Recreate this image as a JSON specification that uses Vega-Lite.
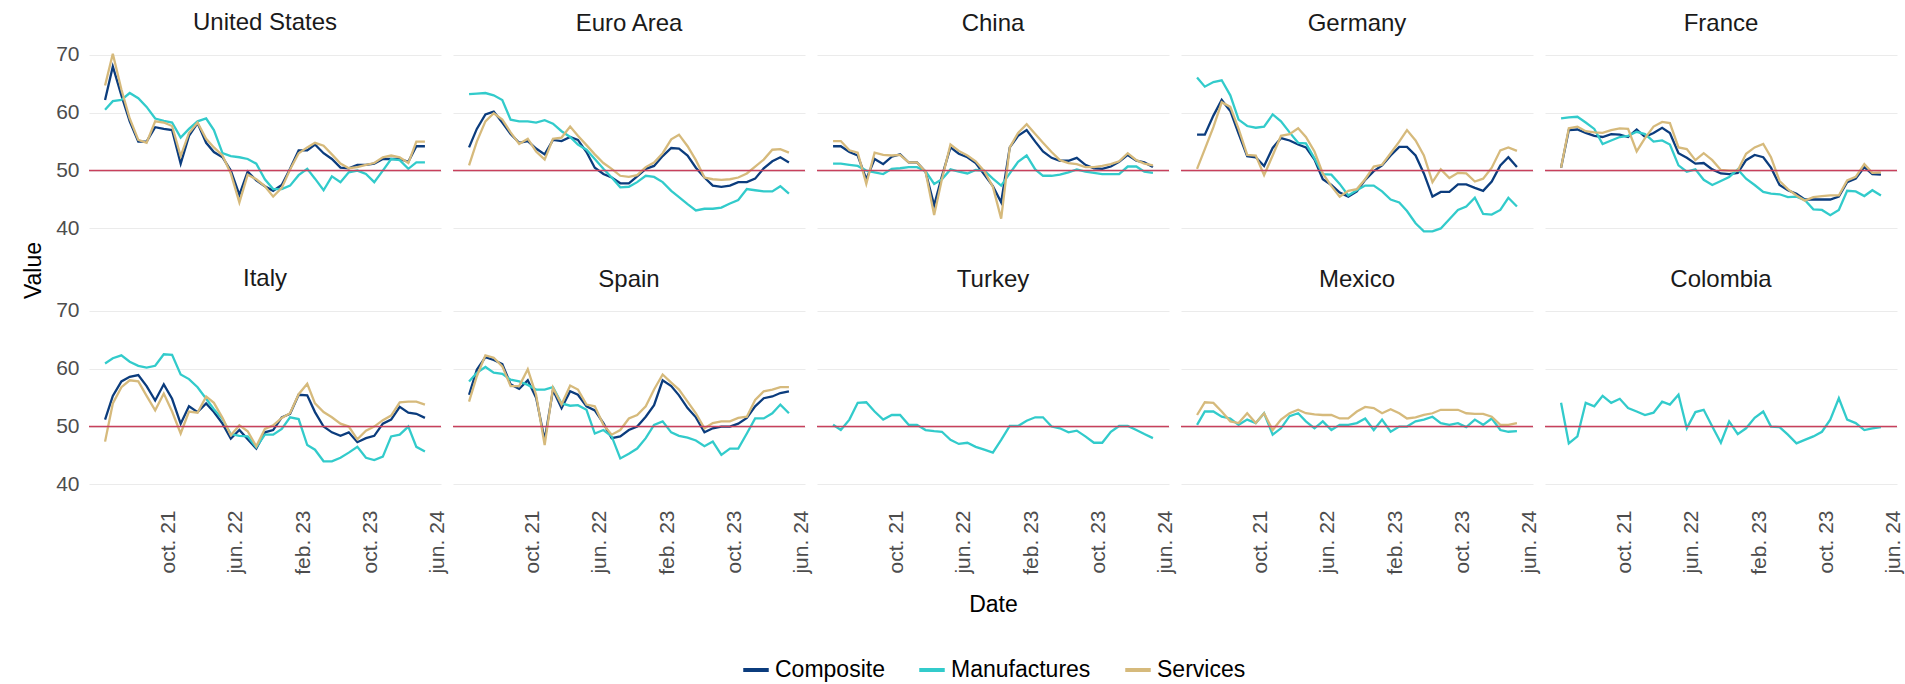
{
"$schema": "https://vega.github.io/schema/vega-lite/v6.json",
"padding": {"left": 22, "top": 10, "right": 5, "bottom": 1},
"datasets": {
"pmi": [
{"country":"United States","date":"2021-02-15","Composite":62.2,"Manufactures":60.5,"Services":64.7},
{"country":"United States","date":"2021-03-15","Composite":68,"Manufactures":62,"Services":70.2},
{"country":"United States","date":"2021-04-15","Composite":63,"Manufactures":62.2,"Services":64},
{"country":"United States","date":"2021-05-15","Composite":58.5,"Manufactures":63.4,"Services":59},
{"country":"United States","date":"2021-06-15","Composite":55,"Manufactures":62.5,"Services":55.3},
{"country":"United States","date":"2021-07-15","Composite":55,"Manufactures":61,"Services":54.8},
{"country":"United States","date":"2021-08-15","Composite":57.5,"Manufactures":59,"Services":58.5},
{"country":"United States","date":"2021-09-15","Composite":57.2,"Manufactures":58.6,"Services":58.3},
{"country":"United States","date":"2021-10-15","Composite":57,"Manufactures":58.3,"Services":57.7},
{"country":"United States","date":"2021-11-15","Composite":51.2,"Manufactures":55.7,"Services":52.5},
{"country":"United States","date":"2021-12-15","Composite":56,"Manufactures":57.2,"Services":56.5},
{"country":"United States","date":"2022-01-15","Composite":58.2,"Manufactures":58.5,"Services":58.3},
{"country":"United States","date":"2022-02-15","Composite":54.8,"Manufactures":59,"Services":55.5},
{"country":"United States","date":"2022-03-15","Composite":53.2,"Manufactures":57,"Services":54},
{"country":"United States","date":"2022-04-15","Composite":52.3,"Manufactures":53,"Services":52.6},
{"country":"United States","date":"2022-05-15","Composite":50,"Manufactures":52.5,"Services":49.5},
{"country":"United States","date":"2022-06-15","Composite":45.8,"Manufactures":52.3,"Services":44.5},
{"country":"United States","date":"2022-07-15","Composite":49.8,"Manufactures":52,"Services":49.3},
{"country":"United States","date":"2022-08-15","Composite":48.3,"Manufactures":51.2,"Services":48.5},
{"country":"United States","date":"2022-09-15","Composite":47.3,"Manufactures":48.5,"Services":47.3},
{"country":"United States","date":"2022-10-15","Composite":46.5,"Manufactures":46.8,"Services":45.5},
{"country":"United States","date":"2022-11-15","Composite":47.5,"Manufactures":46.8,"Services":47},
{"country":"United States","date":"2022-12-15","Composite":50.3,"Manufactures":47.4,"Services":50.2},
{"country":"United States","date":"2023-01-15","Composite":53.5,"Manufactures":49.2,"Services":53},
{"country":"United States","date":"2023-02-15","Composite":53.5,"Manufactures":50.3,"Services":54},
{"country":"United States","date":"2023-03-15","Composite":54.5,"Manufactures":48.6,"Services":54.8},
{"country":"United States","date":"2023-04-15","Composite":53,"Manufactures":46.6,"Services":54.3},
{"country":"United States","date":"2023-05-15","Composite":52,"Manufactures":49,"Services":52.8},
{"country":"United States","date":"2023-06-15","Composite":50.5,"Manufactures":48,"Services":51.2},
{"country":"United States","date":"2023-07-15","Composite":50.4,"Manufactures":49.7,"Services":50.4},
{"country":"United States","date":"2023-08-15","Composite":51,"Manufactures":50,"Services":50.6},
{"country":"United States","date":"2023-09-15","Composite":51,"Manufactures":49.4,"Services":51},
{"country":"United States","date":"2023-10-15","Composite":51.2,"Manufactures":48,"Services":51.3},
{"country":"United States","date":"2023-11-15","Composite":52,"Manufactures":50,"Services":52.3},
{"country":"United States","date":"2023-12-15","Composite":52,"Manufactures":52,"Services":52.6},
{"country":"United States","date":"2024-01-15","Composite":52,"Manufactures":51.8,"Services":52.3},
{"country":"United States","date":"2024-02-15","Composite":51.5,"Manufactures":50.3,"Services":51.3},
{"country":"United States","date":"2024-03-15","Composite":54.2,"Manufactures":51.4,"Services":55},
{"country":"United States","date":"2024-04-15","Composite":54.2,"Manufactures":51.4,"Services":55},
{"country":"Euro Area","date":"2021-02-15","Composite":54,"Manufactures":63.2,"Services":50.9},
{"country":"Euro Area","date":"2021-03-15","Composite":57.2,"Manufactures":63.3,"Services":55},
{"country":"Euro Area","date":"2021-04-15","Composite":59.7,"Manufactures":63.4,"Services":58.5},
{"country":"Euro Area","date":"2021-05-15","Composite":60.2,"Manufactures":63,"Services":59.9},
{"country":"Euro Area","date":"2021-06-15","Composite":58.3,"Manufactures":62.2,"Services":58.8},
{"country":"Euro Area","date":"2021-07-15","Composite":56.3,"Manufactures":58.8,"Services":56.6},
{"country":"Euro Area","date":"2021-08-15","Composite":54.8,"Manufactures":58.5,"Services":54.6},
{"country":"Euro Area","date":"2021-09-15","Composite":55.1,"Manufactures":58.5,"Services":55.5},
{"country":"Euro Area","date":"2021-10-15","Composite":53.8,"Manufactures":58.3,"Services":53.3},
{"country":"Euro Area","date":"2021-11-15","Composite":52.8,"Manufactures":58.7,"Services":51.9},
{"country":"Euro Area","date":"2021-12-15","Composite":55.3,"Manufactures":58.1,"Services":55.5},
{"country":"Euro Area","date":"2022-01-15","Composite":55.1,"Manufactures":56.8,"Services":55.7},
{"country":"Euro Area","date":"2022-02-15","Composite":55.8,"Manufactures":55.8,"Services":57.6},
{"country":"Euro Area","date":"2022-03-15","Composite":55.3,"Manufactures":54.5,"Services":56},
{"country":"Euro Area","date":"2022-04-15","Composite":53.2,"Manufactures":53.6,"Services":54.4},
{"country":"Euro Area","date":"2022-05-15","Composite":50.5,"Manufactures":52,"Services":52.8},
{"country":"Euro Area","date":"2022-06-15","Composite":49.4,"Manufactures":50.3,"Services":51.3},
{"country":"Euro Area","date":"2022-07-15","Composite":48.8,"Manufactures":48.8,"Services":50.3},
{"country":"Euro Area","date":"2022-08-15","Composite":47.8,"Manufactures":47.1,"Services":49.1},
{"country":"Euro Area","date":"2022-09-15","Composite":47.8,"Manufactures":47.2,"Services":48.9},
{"country":"Euro Area","date":"2022-10-15","Composite":49,"Manufactures":48,"Services":49.2},
{"country":"Euro Area","date":"2022-11-15","Composite":50.3,"Manufactures":49.1,"Services":50.6},
{"country":"Euro Area","date":"2022-12-15","Composite":50.8,"Manufactures":48.9,"Services":51.4},
{"country":"Euro Area","date":"2023-01-15","Composite":52.5,"Manufactures":48,"Services":53},
{"country":"Euro Area","date":"2023-02-15","Composite":53.9,"Manufactures":46.5,"Services":55.4},
{"country":"Euro Area","date":"2023-03-15","Composite":53.8,"Manufactures":45.4,"Services":56.2},
{"country":"Euro Area","date":"2023-04-15","Composite":52.6,"Manufactures":44.2,"Services":54.2},
{"country":"Euro Area","date":"2023-05-15","Composite":50.5,"Manufactures":43.1,"Services":51.8},
{"country":"Euro Area","date":"2023-06-15","Composite":48.8,"Manufactures":43.4,"Services":48.8},
{"country":"Euro Area","date":"2023-07-15","Composite":47.4,"Manufactures":43.4,"Services":48.5},
{"country":"Euro Area","date":"2023-08-15","Composite":47.2,"Manufactures":43.6,"Services":48.4},
{"country":"Euro Area","date":"2023-09-15","Composite":47.4,"Manufactures":44.3,"Services":48.5},
{"country":"Euro Area","date":"2023-10-15","Composite":48,"Manufactures":44.9,"Services":48.8},
{"country":"Euro Area","date":"2023-11-15","Composite":48,"Manufactures":46.8,"Services":49.5},
{"country":"Euro Area","date":"2023-12-15","Composite":48.6,"Manufactures":46.6,"Services":50.7},
{"country":"Euro Area","date":"2024-01-15","Composite":50.4,"Manufactures":46.4,"Services":51.9},
{"country":"Euro Area","date":"2024-02-15","Composite":51.6,"Manufactures":46.4,"Services":53.6},
{"country":"Euro Area","date":"2024-03-15","Composite":52.3,"Manufactures":47.3,"Services":53.7},
{"country":"Euro Area","date":"2024-04-15","Composite":51.4,"Manufactures":46,"Services":53.1},
{"country":"China","date":"2021-02-15","Composite":54.2,"Manufactures":51.2,"Services":55.1},
{"country":"China","date":"2021-03-15","Composite":54.2,"Manufactures":51.2,"Services":55.1},
{"country":"China","date":"2021-04-15","Composite":53.2,"Manufactures":51,"Services":53.5},
{"country":"China","date":"2021-05-15","Composite":52.6,"Manufactures":50.8,"Services":53.1},
{"country":"China","date":"2021-06-15","Composite":48.5,"Manufactures":50,"Services":47.7},
{"country":"China","date":"2021-07-15","Composite":52,"Manufactures":49.7,"Services":53.1},
{"country":"China","date":"2021-08-15","Composite":51.1,"Manufactures":49.4,"Services":52.7},
{"country":"China","date":"2021-09-15","Composite":52.4,"Manufactures":50.3,"Services":52.6},
{"country":"China","date":"2021-10-15","Composite":52.8,"Manufactures":50.4,"Services":52.7},
{"country":"China","date":"2021-11-15","Composite":51.4,"Manufactures":50.6,"Services":51.4},
{"country":"China","date":"2021-12-15","Composite":51.4,"Manufactures":50.6,"Services":51.4},
{"country":"China","date":"2022-01-15","Composite":49.8,"Manufactures":49.9,"Services":49.8},
{"country":"China","date":"2022-02-15","Composite":44,"Manufactures":47.7,"Services":42.3},
{"country":"China","date":"2022-03-15","Composite":49,"Manufactures":48.5,"Services":48.5},
{"country":"China","date":"2022-04-15","Composite":54,"Manufactures":50.2,"Services":54.5},
{"country":"China","date":"2022-05-15","Composite":52.9,"Manufactures":49.8,"Services":53.4},
{"country":"China","date":"2022-06-15","Composite":52.3,"Manufactures":49.5,"Services":52.6},
{"country":"China","date":"2022-07-15","Composite":51.3,"Manufactures":50.1,"Services":51.6},
{"country":"China","date":"2022-08-15","Composite":49.3,"Manufactures":50,"Services":49.9},
{"country":"China","date":"2022-09-15","Composite":47.3,"Manufactures":48.6,"Services":47.2},
{"country":"China","date":"2022-10-15","Composite":44.5,"Manufactures":47.4,"Services":41.7},
{"country":"China","date":"2022-11-15","Composite":54,"Manufactures":49.5,"Services":54},
{"country":"China","date":"2022-12-15","Composite":56,"Manufactures":51.5,"Services":56.5},
{"country":"China","date":"2023-01-15","Composite":57,"Manufactures":52.6,"Services":58},
{"country":"China","date":"2023-02-15","Composite":55,"Manufactures":50.2,"Services":56.3},
{"country":"China","date":"2023-03-15","Composite":53.3,"Manufactures":49.1,"Services":54.8},
{"country":"China","date":"2023-04-15","Composite":52.2,"Manufactures":49.1,"Services":53.2},
{"country":"China","date":"2023-05-15","Composite":51.7,"Manufactures":49.3,"Services":51.8},
{"country":"China","date":"2023-06-15","Composite":51.7,"Manufactures":49.7,"Services":51.3},
{"country":"China","date":"2023-07-15","Composite":52.2,"Manufactures":50.2,"Services":51.1},
{"country":"China","date":"2023-08-15","Composite":51,"Manufactures":49.8,"Services":50.6},
{"country":"China","date":"2023-09-15","Composite":50.4,"Manufactures":49.6,"Services":50.6},
{"country":"China","date":"2023-10-15","Composite":50.3,"Manufactures":49.4,"Services":50.8},
{"country":"China","date":"2023-11-15","Composite":50.7,"Manufactures":49.4,"Services":51.1},
{"country":"China","date":"2023-12-15","Composite":51.5,"Manufactures":49.4,"Services":51.6},
{"country":"China","date":"2024-01-15","Composite":52.7,"Manufactures":50.7,"Services":53},
{"country":"China","date":"2024-02-15","Composite":51.7,"Manufactures":50.7,"Services":51.8},
{"country":"China","date":"2024-03-15","Composite":51.4,"Manufactures":49.8,"Services":51.2},
{"country":"China","date":"2024-04-15","Composite":50.6,"Manufactures":49.6,"Services":50.9},
{"country":"Germany","date":"2021-02-15","Composite":56.2,"Manufactures":66.1,"Services":50.3},
{"country":"Germany","date":"2021-03-15","Composite":56.2,"Manufactures":64.5,"Services":53.7},
{"country":"Germany","date":"2021-04-15","Composite":59.5,"Manufactures":65.3,"Services":57.5},
{"country":"Germany","date":"2021-05-15","Composite":62.2,"Manufactures":65.6,"Services":61.8},
{"country":"Germany","date":"2021-06-15","Composite":60.3,"Manufactures":63,"Services":61},
{"country":"Germany","date":"2021-07-15","Composite":56.4,"Manufactures":58.8,"Services":57.2},
{"country":"Germany","date":"2021-08-15","Composite":52.5,"Manufactures":57.7,"Services":52.7},
{"country":"Germany","date":"2021-09-15","Composite":52.3,"Manufactures":57.4,"Services":52.6},
{"country":"Germany","date":"2021-10-15","Composite":50.8,"Manufactures":57.6,"Services":49.2},
{"country":"Germany","date":"2021-11-15","Composite":53.9,"Manufactures":59.7,"Services":52.6},
{"country":"Germany","date":"2021-12-15","Composite":55.6,"Manufactures":58.5,"Services":56},
{"country":"Germany","date":"2022-01-15","Composite":55.2,"Manufactures":56.6,"Services":56.3},
{"country":"Germany","date":"2022-02-15","Composite":54.5,"Manufactures":54.8,"Services":57.3},
{"country":"Germany","date":"2022-03-15","Composite":54,"Manufactures":54.7,"Services":55.8},
{"country":"Germany","date":"2022-04-15","Composite":51.9,"Manufactures":52.1,"Services":53.3},
{"country":"Germany","date":"2022-05-15","Composite":48.5,"Manufactures":49.4,"Services":49.5},
{"country":"Germany","date":"2022-06-15","Composite":47.5,"Manufactures":49.3,"Services":47.3},
{"country":"Germany","date":"2022-07-15","Composite":46.2,"Manufactures":47.7,"Services":45.5},
{"country":"Germany","date":"2022-08-15","Composite":45.5,"Manufactures":45.7,"Services":46.5},
{"country":"Germany","date":"2022-09-15","Composite":46.4,"Manufactures":46.6,"Services":46.8},
{"country":"Germany","date":"2022-10-15","Composite":48.4,"Manufactures":47.4,"Services":48.5},
{"country":"Germany","date":"2022-11-15","Composite":49.9,"Manufactures":47.4,"Services":50.7},
{"country":"Germany","date":"2022-12-15","Composite":50.9,"Manufactures":46.4,"Services":51},
{"country":"Germany","date":"2023-01-15","Composite":52.6,"Manufactures":45,"Services":53},
{"country":"Germany","date":"2023-02-15","Composite":54.1,"Manufactures":44.5,"Services":55},
{"country":"Germany","date":"2023-03-15","Composite":54.1,"Manufactures":43,"Services":57},
{"country":"Germany","date":"2023-04-15","Composite":52.6,"Manufactures":40.9,"Services":55.2},
{"country":"Germany","date":"2023-05-15","Composite":49.5,"Manufactures":39.5,"Services":52.6},
{"country":"Germany","date":"2023-06-15","Composite":45.5,"Manufactures":39.5,"Services":48},
{"country":"Germany","date":"2023-07-15","Composite":46.3,"Manufactures":40,"Services":50.2},
{"country":"Germany","date":"2023-08-15","Composite":46.3,"Manufactures":41.6,"Services":48.7},
{"country":"Germany","date":"2023-09-15","Composite":47.6,"Manufactures":43.2,"Services":49.6},
{"country":"Germany","date":"2023-10-15","Composite":47.6,"Manufactures":43.8,"Services":49.5},
{"country":"Germany","date":"2023-11-15","Composite":47,"Manufactures":45.3,"Services":48.1},
{"country":"Germany","date":"2023-12-15","Composite":46.5,"Manufactures":42.5,"Services":48.6},
{"country":"Germany","date":"2024-01-15","Composite":48.1,"Manufactures":42.4,"Services":50.5},
{"country":"Germany","date":"2024-02-15","Composite":50.9,"Manufactures":43.2,"Services":53.5},
{"country":"Germany","date":"2024-03-15","Composite":52.3,"Manufactures":45.3,"Services":54},
{"country":"Germany","date":"2024-04-15","Composite":50.6,"Manufactures":43.8,"Services":53.4},
{"country":"France","date":"2021-02-15","Composite":50.5,"Manufactures":59,"Services":50.5},
{"country":"France","date":"2021-03-15","Composite":57,"Manufactures":59.2,"Services":57.3},
{"country":"France","date":"2021-04-15","Composite":57.1,"Manufactures":59.3,"Services":57.6},
{"country":"France","date":"2021-05-15","Composite":56.5,"Manufactures":58.3,"Services":56.8},
{"country":"France","date":"2021-06-15","Composite":56,"Manufactures":57.2,"Services":56.6},
{"country":"France","date":"2021-07-15","Composite":55.8,"Manufactures":54.6,"Services":56.5},
{"country":"France","date":"2021-08-15","Composite":56.3,"Manufactures":55.2,"Services":57},
{"country":"France","date":"2021-09-15","Composite":56.2,"Manufactures":55.8,"Services":57.3},
{"country":"France","date":"2021-10-15","Composite":55.8,"Manufactures":56,"Services":57.2},
{"country":"France","date":"2021-11-15","Composite":57.1,"Manufactures":56.7,"Services":53.3},
{"country":"France","date":"2021-12-15","Composite":55.8,"Manufactures":56.3,"Services":55.6},
{"country":"France","date":"2022-01-15","Composite":56.5,"Manufactures":55,"Services":57.6},
{"country":"France","date":"2022-02-15","Composite":57.4,"Manufactures":55.2,"Services":58.4},
{"country":"France","date":"2022-03-15","Composite":56.5,"Manufactures":54.5,"Services":58.2},
{"country":"France","date":"2022-04-15","Composite":53,"Manufactures":50.9,"Services":54},
{"country":"France","date":"2022-05-15","Composite":52.2,"Manufactures":49.8,"Services":53.7},
{"country":"France","date":"2022-06-15","Composite":51.2,"Manufactures":50.2,"Services":51.8},
{"country":"France","date":"2022-07-15","Composite":51.3,"Manufactures":48.4,"Services":53},
{"country":"France","date":"2022-08-15","Composite":50.2,"Manufactures":47.5,"Services":51.8},
{"country":"France","date":"2022-09-15","Composite":49.5,"Manufactures":48.2,"Services":50.1},
{"country":"France","date":"2022-10-15","Composite":49.4,"Manufactures":48.9,"Services":50},
{"country":"France","date":"2022-11-15","Composite":49.6,"Manufactures":50.2,"Services":50},
{"country":"France","date":"2022-12-15","Composite":51.8,"Manufactures":48.6,"Services":52.9},
{"country":"France","date":"2023-01-15","Composite":52.7,"Manufactures":47.5,"Services":54},
{"country":"France","date":"2023-02-15","Composite":52.3,"Manufactures":46.3,"Services":54.6},
{"country":"France","date":"2023-03-15","Composite":50.5,"Manufactures":46,"Services":52.3},
{"country":"France","date":"2023-04-15","Composite":47.5,"Manufactures":45.9,"Services":48.2},
{"country":"France","date":"2023-05-15","Composite":46.6,"Manufactures":45.4,"Services":46.8},
{"country":"France","date":"2023-06-15","Composite":46,"Manufactures":45.5,"Services":45.7},
{"country":"France","date":"2023-07-15","Composite":45,"Manufactures":44.9,"Services":44.8},
{"country":"France","date":"2023-08-15","Composite":45,"Manufactures":43.3,"Services":45.4},
{"country":"France","date":"2023-09-15","Composite":45,"Manufactures":43.2,"Services":45.6},
{"country":"France","date":"2023-10-15","Composite":45,"Manufactures":42.3,"Services":45.7},
{"country":"France","date":"2023-11-15","Composite":45.5,"Manufactures":43.2,"Services":45.7},
{"country":"France","date":"2023-12-15","Composite":48,"Manufactures":46.5,"Services":48.3},
{"country":"France","date":"2024-01-15","Composite":48.6,"Manufactures":46.4,"Services":48.9},
{"country":"France","date":"2024-02-15","Composite":50.6,"Manufactures":45.6,"Services":51.1},
{"country":"France","date":"2024-03-15","Composite":49.4,"Manufactures":46.6,"Services":49.6},
{"country":"France","date":"2024-04-15","Composite":49.3,"Manufactures":45.7,"Services":49.7},
{"country":"Italy","date":"2021-02-15","Composite":51.2,"Manufactures":60.9,"Services":47.4},
{"country":"Italy","date":"2021-03-15","Composite":55.3,"Manufactures":61.8,"Services":54},
{"country":"Italy","date":"2021-04-15","Composite":57.8,"Manufactures":62.3,"Services":56.8},
{"country":"Italy","date":"2021-05-15","Composite":58.6,"Manufactures":61.2,"Services":58},
{"country":"Italy","date":"2021-06-15","Composite":58.9,"Manufactures":60.5,"Services":57.8},
{"country":"Italy","date":"2021-07-15","Composite":57,"Manufactures":60.2,"Services":55.3},
{"country":"Italy","date":"2021-08-15","Composite":54.5,"Manufactures":60.5,"Services":52.8},
{"country":"Italy","date":"2021-09-15","Composite":57.3,"Manufactures":62.5,"Services":55.7},
{"country":"Italy","date":"2021-10-15","Composite":54.8,"Manufactures":62.4,"Services":52.6},
{"country":"Italy","date":"2021-11-15","Composite":50.5,"Manufactures":59,"Services":48.8},
{"country":"Italy","date":"2021-12-15","Composite":53.5,"Manufactures":58.2,"Services":52.6},
{"country":"Italy","date":"2022-01-15","Composite":52.5,"Manufactures":56.8,"Services":52.4},
{"country":"Italy","date":"2022-02-15","Composite":54,"Manufactures":54.8,"Services":55.2},
{"country":"Italy","date":"2022-03-15","Composite":52.5,"Manufactures":53,"Services":54.1},
{"country":"Italy","date":"2022-04-15","Composite":50.5,"Manufactures":51.3,"Services":51.5},
{"country":"Italy","date":"2022-05-15","Composite":47.9,"Manufactures":48.7,"Services":48.5},
{"country":"Italy","date":"2022-06-15","Composite":49.4,"Manufactures":48.4,"Services":50.2},
{"country":"Italy","date":"2022-07-15","Composite":47.8,"Manufactures":48.3,"Services":49.2},
{"country":"Italy","date":"2022-08-15","Composite":46.2,"Manufactures":46.4,"Services":46.6},
{"country":"Italy","date":"2022-09-15","Composite":49,"Manufactures":48.6,"Services":49.6},
{"country":"Italy","date":"2022-10-15","Composite":49.4,"Manufactures":48.6,"Services":50.2},
{"country":"Italy","date":"2022-11-15","Composite":51.6,"Manufactures":49.6,"Services":51.5},
{"country":"Italy","date":"2022-12-15","Composite":52.2,"Manufactures":51.6,"Services":52.3},
{"country":"Italy","date":"2023-01-15","Composite":55.5,"Manufactures":51.3,"Services":55.6},
{"country":"Italy","date":"2023-02-15","Composite":55.4,"Manufactures":46.8,"Services":57.4},
{"country":"Italy","date":"2023-03-15","Composite":52.5,"Manufactures":46,"Services":54},
{"country":"Italy","date":"2023-04-15","Composite":50,"Manufactures":44,"Services":52.5},
{"country":"Italy","date":"2023-05-15","Composite":49,"Manufactures":44,"Services":51.6},
{"country":"Italy","date":"2023-06-15","Composite":48.4,"Manufactures":44.6,"Services":50.5},
{"country":"Italy","date":"2023-07-15","Composite":49,"Manufactures":45.5,"Services":50},
{"country":"Italy","date":"2023-08-15","Composite":47.3,"Manufactures":46.5,"Services":47.8},
{"country":"Italy","date":"2023-09-15","Composite":48,"Manufactures":44.6,"Services":49.3},
{"country":"Italy","date":"2023-10-15","Composite":48.4,"Manufactures":44.2,"Services":50},
{"country":"Italy","date":"2023-11-15","Composite":50.5,"Manufactures":44.8,"Services":51.1},
{"country":"Italy","date":"2023-12-15","Composite":51.2,"Manufactures":48.3,"Services":51.9},
{"country":"Italy","date":"2024-01-15","Composite":53.4,"Manufactures":48.6,"Services":54.2},
{"country":"Italy","date":"2024-02-15","Composite":52.4,"Manufactures":50,"Services":54.3},
{"country":"Italy","date":"2024-03-15","Composite":52.2,"Manufactures":46.5,"Services":54.3},
{"country":"Italy","date":"2024-04-15","Composite":51.5,"Manufactures":45.7,"Services":53.8},
{"country":"Spain","date":"2021-02-15","Composite":55.5,"Manufactures":57.8,"Services":54.3},
{"country":"Spain","date":"2021-03-15","Composite":59.8,"Manufactures":59.3,"Services":58.7},
{"country":"Spain","date":"2021-04-15","Composite":62,"Manufactures":60.3,"Services":62.3},
{"country":"Spain","date":"2021-05-15","Composite":61.5,"Manufactures":59.3,"Services":61.9},
{"country":"Spain","date":"2021-06-15","Composite":60.8,"Manufactures":59.1,"Services":60.4},
{"country":"Spain","date":"2021-07-15","Composite":57.3,"Manufactures":58.1,"Services":57},
{"country":"Spain","date":"2021-08-15","Composite":56.5,"Manufactures":57.8,"Services":57},
{"country":"Spain","date":"2021-09-15","Composite":58,"Manufactures":57.2,"Services":59.9},
{"country":"Spain","date":"2021-10-15","Composite":55,"Manufactures":56.4,"Services":55.5},
{"country":"Spain","date":"2021-11-15","Composite":47.7,"Manufactures":56.4,"Services":46.8},
{"country":"Spain","date":"2021-12-15","Composite":56.3,"Manufactures":56.8,"Services":56.7},
{"country":"Spain","date":"2022-01-15","Composite":53.2,"Manufactures":54,"Services":53.8},
{"country":"Spain","date":"2022-02-15","Composite":56.1,"Manufactures":53.6,"Services":57.1},
{"country":"Spain","date":"2022-03-15","Composite":55.5,"Manufactures":53.7,"Services":56.4},
{"country":"Spain","date":"2022-04-15","Composite":53.5,"Manufactures":52.9,"Services":53.8},
{"country":"Spain","date":"2022-05-15","Composite":52.8,"Manufactures":48.8,"Services":53.5},
{"country":"Spain","date":"2022-06-15","Composite":50.6,"Manufactures":49.4,"Services":50.3},
{"country":"Spain","date":"2022-07-15","Composite":48,"Manufactures":48.3,"Services":48.6},
{"country":"Spain","date":"2022-08-15","Composite":48.3,"Manufactures":44.5,"Services":49.4},
{"country":"Spain","date":"2022-09-15","Composite":49.4,"Manufactures":45.3,"Services":51.4},
{"country":"Spain","date":"2022-10-15","Composite":50,"Manufactures":46.2,"Services":52},
{"country":"Spain","date":"2022-11-15","Composite":51.7,"Manufactures":48,"Services":53.5},
{"country":"Spain","date":"2022-12-15","Composite":53.7,"Manufactures":50.3,"Services":56.4},
{"country":"Spain","date":"2023-01-15","Composite":58,"Manufactures":50.9,"Services":59},
{"country":"Spain","date":"2023-02-15","Composite":57,"Manufactures":49,"Services":57.6},
{"country":"Spain","date":"2023-03-15","Composite":55.4,"Manufactures":48.4,"Services":56.4},
{"country":"Spain","date":"2023-04-15","Composite":53.2,"Manufactures":48.1,"Services":54.3},
{"country":"Spain","date":"2023-05-15","Composite":51.6,"Manufactures":47.6,"Services":52.3},
{"country":"Spain","date":"2023-06-15","Composite":49,"Manufactures":46.6,"Services":49.7},
{"country":"Spain","date":"2023-07-15","Composite":49.7,"Manufactures":47.4,"Services":50.6},
{"country":"Spain","date":"2023-08-15","Composite":50,"Manufactures":45.1,"Services":50.9},
{"country":"Spain","date":"2023-09-15","Composite":50,"Manufactures":46.2,"Services":50.9},
{"country":"Spain","date":"2023-10-15","Composite":50.5,"Manufactures":46.2,"Services":51.5},
{"country":"Spain","date":"2023-11-15","Composite":51.5,"Manufactures":48.8,"Services":51.7},
{"country":"Spain","date":"2023-12-15","Composite":53.5,"Manufactures":51.4,"Services":54.6},
{"country":"Spain","date":"2024-01-15","Composite":54.9,"Manufactures":51.4,"Services":56.1},
{"country":"Spain","date":"2024-02-15","Composite":55.2,"Manufactures":52.3,"Services":56.4},
{"country":"Spain","date":"2024-03-15","Composite":55.8,"Manufactures":53.8,"Services":56.8},
{"country":"Spain","date":"2024-04-15","Composite":56.1,"Manufactures":52.3,"Services":56.8},
{"country":"Turkey","date":"2021-02-15","Manufactures":50.3},
{"country":"Turkey","date":"2021-03-15","Manufactures":49.4},
{"country":"Turkey","date":"2021-04-15","Manufactures":51.2},
{"country":"Turkey","date":"2021-05-15","Manufactures":54.1},
{"country":"Turkey","date":"2021-06-15","Manufactures":54.2},
{"country":"Turkey","date":"2021-07-15","Manufactures":52.6},
{"country":"Turkey","date":"2021-08-15","Manufactures":51.2},
{"country":"Turkey","date":"2021-09-15","Manufactures":52},
{"country":"Turkey","date":"2021-10-15","Manufactures":52},
{"country":"Turkey","date":"2021-11-15","Manufactures":50.3},
{"country":"Turkey","date":"2021-12-15","Manufactures":50.3},
{"country":"Turkey","date":"2022-01-15","Manufactures":49.4},
{"country":"Turkey","date":"2022-02-15","Manufactures":49.2},
{"country":"Turkey","date":"2022-03-15","Manufactures":49.1},
{"country":"Turkey","date":"2022-04-15","Manufactures":47.7},
{"country":"Turkey","date":"2022-05-15","Manufactures":47},
{"country":"Turkey","date":"2022-06-15","Manufactures":47.2},
{"country":"Turkey","date":"2022-07-15","Manufactures":46.5},
{"country":"Turkey","date":"2022-08-15","Manufactures":46},
{"country":"Turkey","date":"2022-09-15","Manufactures":45.5},
{"country":"Turkey","date":"2022-10-15","Manufactures":47.7},
{"country":"Turkey","date":"2022-11-15","Manufactures":50.1},
{"country":"Turkey","date":"2022-12-15","Manufactures":50.1},
{"country":"Turkey","date":"2023-01-15","Manufactures":51},
{"country":"Turkey","date":"2023-02-15","Manufactures":51.6},
{"country":"Turkey","date":"2023-03-15","Manufactures":51.6},
{"country":"Turkey","date":"2023-04-15","Manufactures":50},
{"country":"Turkey","date":"2023-05-15","Manufactures":49.7},
{"country":"Turkey","date":"2023-06-15","Manufactures":49},
{"country":"Turkey","date":"2023-07-15","Manufactures":49.3},
{"country":"Turkey","date":"2023-08-15","Manufactures":48.3},
{"country":"Turkey","date":"2023-09-15","Manufactures":47.2},
{"country":"Turkey","date":"2023-10-15","Manufactures":47.2},
{"country":"Turkey","date":"2023-11-15","Manufactures":49.1},
{"country":"Turkey","date":"2023-12-15","Manufactures":50.1},
{"country":"Turkey","date":"2024-01-15","Manufactures":50.1},
{"country":"Turkey","date":"2024-02-15","Manufactures":49.4},
{"country":"Turkey","date":"2024-03-15","Manufactures":48.7},
{"country":"Turkey","date":"2024-04-15","Manufactures":48},
{"country":"Mexico","date":"2021-02-15","Manufactures":50.3,"Services":52},
{"country":"Mexico","date":"2021-03-15","Manufactures":52.6,"Services":54.2},
{"country":"Mexico","date":"2021-04-15","Manufactures":52.6,"Services":54.1},
{"country":"Mexico","date":"2021-05-15","Manufactures":51.7,"Services":52.6},
{"country":"Mexico","date":"2021-06-15","Manufactures":51.4,"Services":50.9},
{"country":"Mexico","date":"2021-07-15","Manufactures":50.3,"Services":50.6},
{"country":"Mexico","date":"2021-08-15","Manufactures":51.2,"Services":52.3},
{"country":"Mexico","date":"2021-09-15","Manufactures":50.6,"Services":50.6},
{"country":"Mexico","date":"2021-10-15","Manufactures":52.3,"Services":52.3},
{"country":"Mexico","date":"2021-11-15","Manufactures":48.6,"Services":49.4},
{"country":"Mexico","date":"2021-12-15","Manufactures":49.7,"Services":51.2},
{"country":"Mexico","date":"2022-01-15","Manufactures":51.8,"Services":52.3},
{"country":"Mexico","date":"2022-02-15","Manufactures":52.3,"Services":52.9},
{"country":"Mexico","date":"2022-03-15","Manufactures":50.9,"Services":52.3},
{"country":"Mexico","date":"2022-04-15","Manufactures":49.7,"Services":52.1},
{"country":"Mexico","date":"2022-05-15","Manufactures":50.9,"Services":52},
{"country":"Mexico","date":"2022-06-15","Manufactures":49.4,"Services":52},
{"country":"Mexico","date":"2022-07-15","Manufactures":50.3,"Services":51.4},
{"country":"Mexico","date":"2022-08-15","Manufactures":50.3,"Services":51.4},
{"country":"Mexico","date":"2022-09-15","Manufactures":50.6,"Services":52.6},
{"country":"Mexico","date":"2022-10-15","Manufactures":51.4,"Services":53.4},
{"country":"Mexico","date":"2022-11-15","Manufactures":49.4,"Services":53.2},
{"country":"Mexico","date":"2022-12-15","Manufactures":51.2,"Services":52.3},
{"country":"Mexico","date":"2023-01-15","Manufactures":49.1,"Services":53},
{"country":"Mexico","date":"2023-02-15","Manufactures":50,"Services":52.3},
{"country":"Mexico","date":"2023-03-15","Manufactures":50,"Services":51.4},
{"country":"Mexico","date":"2023-04-15","Manufactures":50.9,"Services":51.6},
{"country":"Mexico","date":"2023-05-15","Manufactures":51.2,"Services":52},
{"country":"Mexico","date":"2023-06-15","Manufactures":51.7,"Services":52.3},
{"country":"Mexico","date":"2023-07-15","Manufactures":50.6,"Services":52.9},
{"country":"Mexico","date":"2023-08-15","Manufactures":50.3,"Services":52.9},
{"country":"Mexico","date":"2023-09-15","Manufactures":50.6,"Services":52.9},
{"country":"Mexico","date":"2023-10-15","Manufactures":49.9,"Services":52.3},
{"country":"Mexico","date":"2023-11-15","Manufactures":51.2,"Services":52.2},
{"country":"Mexico","date":"2023-12-15","Manufactures":50.3,"Services":52.2},
{"country":"Mexico","date":"2024-01-15","Manufactures":51.4,"Services":51.7},
{"country":"Mexico","date":"2024-02-15","Manufactures":49.4,"Services":50.3},
{"country":"Mexico","date":"2024-03-15","Manufactures":49.1,"Services":50.3},
{"country":"Mexico","date":"2024-04-15","Manufactures":49.2,"Services":50.6},
{"country":"Colombia","date":"2021-02-15","Manufactures":54.1},
{"country":"Colombia","date":"2021-03-15","Manufactures":47.1},
{"country":"Colombia","date":"2021-04-15","Manufactures":48.3},
{"country":"Colombia","date":"2021-05-15","Manufactures":54.1},
{"country":"Colombia","date":"2021-06-15","Manufactures":53.5},
{"country":"Colombia","date":"2021-07-15","Manufactures":55.3},
{"country":"Colombia","date":"2021-08-15","Manufactures":54.1},
{"country":"Colombia","date":"2021-09-15","Manufactures":54.8},
{"country":"Colombia","date":"2021-10-15","Manufactures":53.2},
{"country":"Colombia","date":"2021-11-15","Manufactures":52.6},
{"country":"Colombia","date":"2021-12-15","Manufactures":52},
{"country":"Colombia","date":"2022-01-15","Manufactures":52.4},
{"country":"Colombia","date":"2022-02-15","Manufactures":54.3},
{"country":"Colombia","date":"2022-03-15","Manufactures":53.8},
{"country":"Colombia","date":"2022-04-15","Manufactures":55.5},
{"country":"Colombia","date":"2022-05-15","Manufactures":49.7},
{"country":"Colombia","date":"2022-06-15","Manufactures":52.5},
{"country":"Colombia","date":"2022-07-15","Manufactures":52.9},
{"country":"Colombia","date":"2022-08-15","Manufactures":50},
{"country":"Colombia","date":"2022-09-15","Manufactures":47.2},
{"country":"Colombia","date":"2022-10-15","Manufactures":50.9},
{"country":"Colombia","date":"2022-11-15","Manufactures":48.7},
{"country":"Colombia","date":"2022-12-15","Manufactures":49.7},
{"country":"Colombia","date":"2023-01-15","Manufactures":51.5},
{"country":"Colombia","date":"2023-02-15","Manufactures":52.6},
{"country":"Colombia","date":"2023-03-15","Manufactures":50},
{"country":"Colombia","date":"2023-04-15","Manufactures":49.9},
{"country":"Colombia","date":"2023-05-15","Manufactures":48.6},
{"country":"Colombia","date":"2023-06-15","Manufactures":47.1},
{"country":"Colombia","date":"2023-07-15","Manufactures":47.7},
{"country":"Colombia","date":"2023-08-15","Manufactures":48.3},
{"country":"Colombia","date":"2023-09-15","Manufactures":49.1},
{"country":"Colombia","date":"2023-10-15","Manufactures":51.2},
{"country":"Colombia","date":"2023-11-15","Manufactures":54.9},
{"country":"Colombia","date":"2023-12-15","Manufactures":51.2},
{"country":"Colombia","date":"2024-01-15","Manufactures":50.6},
{"country":"Colombia","date":"2024-02-15","Manufactures":49.4},
{"country":"Colombia","date":"2024-03-15","Manufactures":49.7},
{"country":"Colombia","date":"2024-04-15","Manufactures":49.9}
]
},
"data": {"name": "pmi"},
"transform": [
  {"fold": ["Composite", "Manufactures", "Services"], "as": ["series", "value"]},
  {"filter": "isValid(datum.value)"}
],
"columns": 5,
"spacing": {"row": 61, "column": 12},
"bounds": "flush",
"concat": [
{"title": "United States", "width": 352, "height": 195,
 "transform": [{"filter": "datum.country === 'United States'"}],
 "layer": [
  {"mark": {"type": "line", "strokeWidth": 2.3},
   "encoding": {
    "x": {"field": "date", "type": "temporal", "scale": {"domain": [{"year": 2020, "month": 12, "date": 19}, {"year": 2024, "month": 6, "date": 12}]}, "axis": null},
    "y": {"field": "value", "type": "quantitative", "scale": {"domain": [38, 71.7], "nice": false, "zero": false}, "axis": {"values": [40, 45, 50, 55, 60, 65, 70], "labelExpr": "datum.value % 10 === 0 ? datum.label : ''", "title": "Value", "titleY": 225, "titlePadding": 10, "labelPadding": 10}},
    "color": {"field": "series", "type": "nominal", "legend": null, "scale": {"domain": ["Composite", "Manufactures", "Services"], "range": ["#0B3C7D", "#32CBCB", "#D6BA7C"]}}
   }},
  {"transform": [{"aggregate": [{"op": "count", "as": "n"}]}], "mark": {"type": "rule", "color": "#C8405C", "strokeWidth": 1.4}, "encoding": {"y": {"datum": 50}}}
 ]},
{"title": "Euro Area", "width": 352, "height": 195,
 "transform": [{"filter": "datum.country === 'Euro Area'"}],
 "layer": [
  {"mark": {"type": "line", "strokeWidth": 2.3},
   "encoding": {
    "x": {"field": "date", "type": "temporal", "scale": {"domain": [{"year": 2020, "month": 12, "date": 19}, {"year": 2024, "month": 6, "date": 12}]}, "axis": null},
    "y": {"field": "value", "type": "quantitative", "scale": {"domain": [38, 71.7], "nice": false, "zero": false}, "axis": {"values": [40, 45, 50, 55, 60, 65, 70], "labels": false, "title": null}},
    "color": {"field": "series", "type": "nominal", "legend": null, "scale": {"domain": ["Composite", "Manufactures", "Services"], "range": ["#0B3C7D", "#32CBCB", "#D6BA7C"]}}
   }},
  {"transform": [{"aggregate": [{"op": "count", "as": "n"}]}], "mark": {"type": "rule", "color": "#C8405C", "strokeWidth": 1.4}, "encoding": {"y": {"datum": 50}}}
 ]},
{"title": "China", "width": 352, "height": 195,
 "transform": [{"filter": "datum.country === 'China'"}],
 "layer": [
  {"mark": {"type": "line", "strokeWidth": 2.3},
   "encoding": {
    "x": {"field": "date", "type": "temporal", "scale": {"domain": [{"year": 2020, "month": 12, "date": 19}, {"year": 2024, "month": 6, "date": 12}]}, "axis": null},
    "y": {"field": "value", "type": "quantitative", "scale": {"domain": [38, 71.7], "nice": false, "zero": false}, "axis": {"values": [40, 45, 50, 55, 60, 65, 70], "labels": false, "title": null}},
    "color": {"field": "series", "type": "nominal", "legend": null, "scale": {"domain": ["Composite", "Manufactures", "Services"], "range": ["#0B3C7D", "#32CBCB", "#D6BA7C"]}}
   }},
  {"transform": [{"aggregate": [{"op": "count", "as": "n"}]}], "mark": {"type": "rule", "color": "#C8405C", "strokeWidth": 1.4}, "encoding": {"y": {"datum": 50}}}
 ]},
{"title": "Germany", "width": 352, "height": 195,
 "transform": [{"filter": "datum.country === 'Germany'"}],
 "layer": [
  {"mark": {"type": "line", "strokeWidth": 2.3},
   "encoding": {
    "x": {"field": "date", "type": "temporal", "scale": {"domain": [{"year": 2020, "month": 12, "date": 19}, {"year": 2024, "month": 6, "date": 12}]}, "axis": null},
    "y": {"field": "value", "type": "quantitative", "scale": {"domain": [38, 71.7], "nice": false, "zero": false}, "axis": {"values": [40, 45, 50, 55, 60, 65, 70], "labels": false, "title": null}},
    "color": {"field": "series", "type": "nominal", "legend": null, "scale": {"domain": ["Composite", "Manufactures", "Services"], "range": ["#0B3C7D", "#32CBCB", "#D6BA7C"]}}
   }},
  {"transform": [{"aggregate": [{"op": "count", "as": "n"}]}], "mark": {"type": "rule", "color": "#C8405C", "strokeWidth": 1.4}, "encoding": {"y": {"datum": 50}}}
 ]},
{"title": "France", "width": 352, "height": 195,
 "transform": [{"filter": "datum.country === 'France'"}],
 "layer": [
  {"mark": {"type": "line", "strokeWidth": 2.3},
   "encoding": {
    "x": {"field": "date", "type": "temporal", "scale": {"domain": [{"year": 2020, "month": 12, "date": 19}, {"year": 2024, "month": 6, "date": 12}]}, "axis": null},
    "y": {"field": "value", "type": "quantitative", "scale": {"domain": [38, 71.7], "nice": false, "zero": false}, "axis": {"values": [40, 45, 50, 55, 60, 65, 70], "labels": false, "title": null}},
    "color": {"field": "series", "type": "nominal", "legend": null, "scale": {"domain": ["Composite", "Manufactures", "Services"], "range": ["#0B3C7D", "#32CBCB", "#D6BA7C"]}}
   }},
  {"transform": [{"aggregate": [{"op": "count", "as": "n"}]}], "mark": {"type": "rule", "color": "#C8405C", "strokeWidth": 1.4}, "encoding": {"y": {"datum": 50}}}
 ]},
{"title": "Italy", "width": 352, "height": 195,
 "transform": [{"filter": "datum.country === 'Italy'"}],
 "layer": [
  {"mark": {"type": "line", "strokeWidth": 2.3},
   "encoding": {
    "x": {"field": "date", "type": "temporal", "scale": {"domain": [{"year": 2020, "month": 12, "date": 19}, {"year": 2024, "month": 6, "date": 12}]}, "axis": {"values": [{"year": 2021, "month": 10, "date": 1}, {"year": 2022, "month": 6, "date": 1}, {"year": 2023, "month": 2, "date": 1}, {"year": 2023, "month": 10, "date": 1}, {"year": 2024, "month": 6, "date": 1}], "labelExpr": "lower(timeFormat(datum.value, '%b')) + '. ' + timeFormat(datum.value, '%y')", "labelAngle": 270, "grid": false, "title": null, "labelPadding": 14}},
    "y": {"field": "value", "type": "quantitative", "scale": {"domain": [38, 71.7], "nice": false, "zero": false}, "axis": {"values": [40, 45, 50, 55, 60, 65, 70], "labelExpr": "datum.value % 10 === 0 ? datum.label : ''", "title": null, "labelPadding": 10}},
    "color": {"field": "series", "type": "nominal", "legend": null, "scale": {"domain": ["Composite", "Manufactures", "Services"], "range": ["#0B3C7D", "#32CBCB", "#D6BA7C"]}}
   }},
  {"transform": [{"aggregate": [{"op": "count", "as": "n"}]}], "mark": {"type": "rule", "color": "#C8405C", "strokeWidth": 1.4}, "encoding": {"y": {"datum": 50}}}
 ]},
{"title": "Spain", "width": 352, "height": 195,
 "transform": [{"filter": "datum.country === 'Spain'"}],
 "layer": [
  {"mark": {"type": "line", "strokeWidth": 2.3},
   "encoding": {
    "x": {"field": "date", "type": "temporal", "scale": {"domain": [{"year": 2020, "month": 12, "date": 19}, {"year": 2024, "month": 6, "date": 12}]}, "axis": {"values": [{"year": 2021, "month": 10, "date": 1}, {"year": 2022, "month": 6, "date": 1}, {"year": 2023, "month": 2, "date": 1}, {"year": 2023, "month": 10, "date": 1}, {"year": 2024, "month": 6, "date": 1}], "labelExpr": "lower(timeFormat(datum.value, '%b')) + '. ' + timeFormat(datum.value, '%y')", "labelAngle": 270, "grid": false, "title": null, "labelPadding": 14}},
    "y": {"field": "value", "type": "quantitative", "scale": {"domain": [38, 71.7], "nice": false, "zero": false}, "axis": {"values": [40, 45, 50, 55, 60, 65, 70], "labels": false, "title": null}},
    "color": {"field": "series", "type": "nominal", "legend": null, "scale": {"domain": ["Composite", "Manufactures", "Services"], "range": ["#0B3C7D", "#32CBCB", "#D6BA7C"]}}
   }},
  {"transform": [{"aggregate": [{"op": "count", "as": "n"}]}], "mark": {"type": "rule", "color": "#C8405C", "strokeWidth": 1.4}, "encoding": {"y": {"datum": 50}}}
 ]},
{"title": "Turkey", "width": 352, "height": 195,
 "transform": [{"filter": "datum.country === 'Turkey'"}],
 "layer": [
  {"mark": {"type": "line", "strokeWidth": 2.3},
   "encoding": {
    "x": {"field": "date", "type": "temporal", "scale": {"domain": [{"year": 2020, "month": 12, "date": 19}, {"year": 2024, "month": 6, "date": 12}]}, "axis": {"values": [{"year": 2021, "month": 10, "date": 1}, {"year": 2022, "month": 6, "date": 1}, {"year": 2023, "month": 2, "date": 1}, {"year": 2023, "month": 10, "date": 1}, {"year": 2024, "month": 6, "date": 1}], "labelExpr": "lower(timeFormat(datum.value, '%b')) + '. ' + timeFormat(datum.value, '%y')", "labelAngle": 270, "grid": false, "title": "Date", "titlePadding": 19, "labelPadding": 14}},
    "y": {"field": "value", "type": "quantitative", "scale": {"domain": [38, 71.7], "nice": false, "zero": false}, "axis": {"values": [40, 45, 50, 55, 60, 65, 70], "labels": false, "title": null}},
    "color": {"field": "series", "type": "nominal", "title": null, "scale": {"domain": ["Composite", "Manufactures", "Services"], "range": ["#0B3C7D", "#32CBCB", "#D6BA7C"]}, "legend": {"orient": "bottom", "direction": "horizontal", "values": ["Composite", "Manufactures", "Services"]}}
   }},
  {"transform": [{"aggregate": [{"op": "count", "as": "n"}]}], "mark": {"type": "rule", "color": "#C8405C", "strokeWidth": 1.4}, "encoding": {"y": {"datum": 50}}}
 ]},
{"title": "Mexico", "width": 352, "height": 195,
 "transform": [{"filter": "datum.country === 'Mexico'"}],
 "layer": [
  {"mark": {"type": "line", "strokeWidth": 2.3},
   "encoding": {
    "x": {"field": "date", "type": "temporal", "scale": {"domain": [{"year": 2020, "month": 12, "date": 19}, {"year": 2024, "month": 6, "date": 12}]}, "axis": {"values": [{"year": 2021, "month": 10, "date": 1}, {"year": 2022, "month": 6, "date": 1}, {"year": 2023, "month": 2, "date": 1}, {"year": 2023, "month": 10, "date": 1}, {"year": 2024, "month": 6, "date": 1}], "labelExpr": "lower(timeFormat(datum.value, '%b')) + '. ' + timeFormat(datum.value, '%y')", "labelAngle": 270, "grid": false, "title": null, "labelPadding": 14}},
    "y": {"field": "value", "type": "quantitative", "scale": {"domain": [38, 71.7], "nice": false, "zero": false}, "axis": {"values": [40, 45, 50, 55, 60, 65, 70], "labels": false, "title": null}},
    "color": {"field": "series", "type": "nominal", "legend": null, "scale": {"domain": ["Composite", "Manufactures", "Services"], "range": ["#0B3C7D", "#32CBCB", "#D6BA7C"]}}
   }},
  {"transform": [{"aggregate": [{"op": "count", "as": "n"}]}], "mark": {"type": "rule", "color": "#C8405C", "strokeWidth": 1.4}, "encoding": {"y": {"datum": 50}}}
 ]},
{"title": "Colombia", "width": 352, "height": 195,
 "transform": [{"filter": "datum.country === 'Colombia'"}],
 "layer": [
  {"mark": {"type": "line", "strokeWidth": 2.3},
   "encoding": {
    "x": {"field": "date", "type": "temporal", "scale": {"domain": [{"year": 2020, "month": 12, "date": 19}, {"year": 2024, "month": 6, "date": 12}]}, "axis": {"values": [{"year": 2021, "month": 10, "date": 1}, {"year": 2022, "month": 6, "date": 1}, {"year": 2023, "month": 2, "date": 1}, {"year": 2023, "month": 10, "date": 1}, {"year": 2024, "month": 6, "date": 1}], "labelExpr": "lower(timeFormat(datum.value, '%b')) + '. ' + timeFormat(datum.value, '%y')", "labelAngle": 270, "grid": false, "title": null, "labelPadding": 14}},
    "y": {"field": "value", "type": "quantitative", "scale": {"domain": [38, 71.7], "nice": false, "zero": false}, "axis": {"values": [40, 45, 50, 55, 60, 65, 70], "labels": false, "title": null}},
    "color": {"field": "series", "type": "nominal", "legend": null, "scale": {"domain": ["Composite", "Manufactures", "Services"], "range": ["#0B3C7D", "#32CBCB", "#D6BA7C"]}}
   }},
  {"transform": [{"aggregate": [{"op": "count", "as": "n"}]}], "mark": {"type": "rule", "color": "#C8405C", "strokeWidth": 1.4}, "encoding": {"y": {"datum": 50}}}
 ]}
],
"resolve": {"scale": {"color": "shared"}, "legend": {"color": "independent"}},
"config": {
  "font": "Liberation Sans",
  "view": {"stroke": null},
  "axis": {"domain": false, "ticks": false, "gridColor": "#EBEBEB", "gridWidth": 1.1, "labelColor": "#4D4D4D", "labelFontSize": 21, "labelFont": "Liberation Sans", "titleFont": "Liberation Sans", "titleFontSize": 23, "titleFontWeight": "normal", "titleColor": "#000000"},
  "title": {"fontSize": 24, "fontWeight": "normal", "color": "#1A1A1A", "offset": 9, "frame": "group", "anchor": "middle", "font": "Liberation Sans"},
  "legend": {"orient": "bottom", "direction": "horizontal", "labelFontSize": 23, "labelFont": "Liberation Sans", "labelColor": "#000000", "symbolType": "stroke", "symbolStrokeWidth": 4, "symbolSize": 650, "columnPadding": 26, "offset": 38, "layout": {"bottom": {"anchor": "middle"}}}
}
}
